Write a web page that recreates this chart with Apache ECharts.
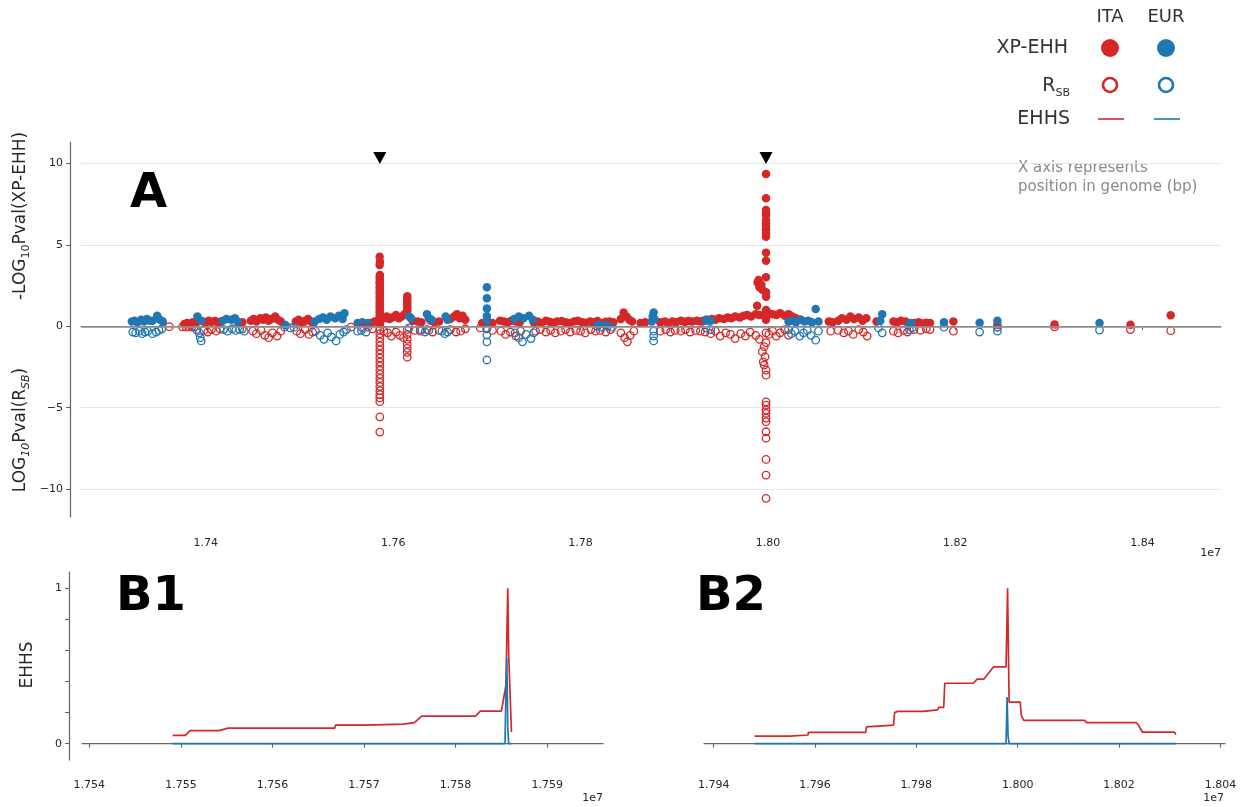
<!DOCTYPE html>
<html>
<head>
<meta charset="utf-8">
<script src="https://cdn.jsdelivr.net/npm/echarts@6/dist/echarts.min.js"></script>
<style>
  html, body { margin: 0; padding: 0; background: #fff; }
  #chart { width: 1242px; height: 807px; }
</style>
</head>
<body>
<div id="chart"></div>
<script>
// Genome positions are in Mb; the axes show them in units of 1e7 bp.

// Panel A: -log10 p of XP-EHH (above zero) and log10 p of Rsb (below zero)
const itaXpehh = [
  [17.377,0.15],[17.380,0.2],[17.383,0.12],[17.386,0.25],[17.389,0.18],
  [17.397,0.3],[17.400,0.25],[17.403,0.35],[17.406,0.28],[17.410,0.32],[17.413,0.22],[17.416,0.3],
  [17.435,0.2],[17.439,0.25],
  [17.448,0.35],[17.451,0.45],[17.454,0.3],[17.458,0.5],[17.461,0.4],[17.464,0.55],[17.467,0.35],[17.470,0.45],[17.474,0.6],[17.477,0.4],[17.480,0.3],
  [17.496,0.3],[17.499,0.4],[17.502,0.25],[17.506,0.35],[17.509,0.45],[17.512,0.3],[17.515,0.2],
  [17.571,0.15],[17.576,0.2],[17.580,0.3],
  [17.5855,4.28],[17.5858,3.97],[17.5855,3.77],[17.5858,3.15],[17.5855,3.0],[17.5858,2.85],[17.5855,2.7],[17.5858,2.55],
  [17.5855,2.4],[17.5858,2.25],[17.5855,2.1],[17.5858,1.95],[17.5855,1.8],[17.5858,1.65],[17.5855,1.5],[17.5858,1.35],
  [17.5855,1.2],[17.5858,1.05],[17.5855,0.9],[17.5858,0.75],[17.5855,0.6],[17.5858,0.45],[17.5855,0.3],[17.5858,0.15],
  [17.590,0.5],[17.593,0.6],[17.596,0.45],[17.599,0.55],[17.603,0.7],[17.606,0.5],[17.609,0.6],[17.612,0.75],
  [17.615,1.85],[17.615,1.7],[17.615,1.55],[17.615,1.4],[17.615,1.25],[17.615,1.1],[17.615,0.95],
  [17.621,0.35],[17.626,0.3],[17.630,0.25],[17.640,0.35],[17.644,0.25],[17.649,0.3],
  [17.661,0.45],[17.665,0.6],[17.668,0.75],[17.671,0.5],[17.674,0.65],[17.677,0.4],
  [17.695,0.2],[17.701,0.25],[17.706,0.2],
  [17.714,0.35],[17.718,0.3],[17.722,0.25],[17.726,0.35],[17.731,0.3],[17.735,0.25],
  [17.750,0.25],[17.754,0.3],[17.758,0.2],[17.763,0.35],[17.767,0.28],[17.771,0.22],[17.775,0.3],[17.780,0.33],
  [17.784,0.25],[17.788,0.2],[17.793,0.3],[17.797,0.35],[17.801,0.27],[17.805,0.22],[17.810,0.3],[17.814,0.25],
  [17.818,0.32],[17.822,0.2],[17.827,0.28],[17.831,0.3],[17.835,0.25],
  [17.843,0.45],[17.846,0.85],[17.849,0.6],[17.852,0.4],[17.855,0.3],
  [17.864,0.2],[17.869,0.25],
  [17.885,0.25],[17.890,0.3],[17.894,0.2],[17.898,0.3],[17.902,0.25],[17.907,0.35],[17.911,0.28],[17.915,0.32],
  [17.919,0.3],[17.924,0.35],[17.928,0.3],
  [17.931,0.35],[17.935,0.4],[17.940,0.45],[17.944,0.4],[17.948,0.5],[17.953,0.45],[17.957,0.55],[17.961,0.5],
  [17.965,0.6],[17.970,0.55],[17.974,0.65],[17.978,0.7],[17.982,0.6],[17.987,0.75],[17.991,0.7],
  [17.998,9.36],[17.998,7.87],[17.998,7.15],[17.998,6.98],[17.998,6.84],[17.998,6.53],[17.998,6.33],[17.998,6.16],
  [17.998,5.96],[17.998,5.71],[17.998,5.5],[17.998,4.52],[17.998,4.03],[17.998,3.01],[17.990,2.85],[17.989,2.7],
  [17.993,2.55],[17.991,2.4],[17.994,2.25],[17.998,2.1],[17.998,1.82],[17.9885,1.27],[17.998,1.0],[17.998,0.8],
  [17.998,0.6],[17.998,0.4],
  [18.001,0.8],[18.005,0.75],[18.009,0.7],[18.013,0.8],[18.018,0.65],[18.022,0.75],[18.026,0.6],[18.030,0.5],[18.035,0.4],
  [18.065,0.3],[18.069,0.25],
  [18.075,0.35],[18.079,0.5],[18.084,0.4],[18.088,0.6],[18.092,0.45],[18.097,0.55],[18.101,0.35],[18.105,0.5],
  [18.116,0.3],
  [18.134,0.3],[18.138,0.25],[18.142,0.35],[18.147,0.3],
  [18.156,0.2],[18.161,0.25],[18.165,0.18],[18.169,0.22],[18.173,0.2],
  [18.198,0.3],[18.245,0.1],[18.306,0.12],[18.387,0.1],[18.430,0.68]
];

const eurXpehh = [
  [17.321,0.3],[17.324,0.35],[17.327,0.25],[17.331,0.4],[17.334,0.3],[17.337,0.45],[17.340,0.35],
  [17.343,0.35],[17.348,0.65],[17.351,0.4],[17.354,0.3],
  [17.391,0.6],[17.395,0.35],
  [17.418,0.35],[17.422,0.45],[17.427,0.4],[17.431,0.5],[17.434,0.3],
  [17.485,0.08],
  [17.516,0.3],[17.521,0.45],[17.525,0.55],[17.529,0.4],[17.533,0.6],[17.538,0.5],[17.542,0.65],[17.546,0.45],[17.548,0.8],
  [17.562,0.2],[17.567,0.25],[17.573,0.2],
  [17.617,0.6],[17.619,0.5],
  [17.636,0.75],[17.638,0.5],[17.641,0.4],
  [17.656,0.6],[17.658,0.4],
  [17.700,2.4],[17.700,1.72],[17.700,1.1],[17.700,0.63],[17.700,0.39],
  [17.729,0.45],[17.734,0.6],[17.739,0.5],[17.745,0.65],[17.749,0.4],
  [17.819,0.1],[17.827,0.08],
  [17.878,0.85],[17.877,0.6],[17.879,0.45],[17.876,0.3],
  [17.934,0.4],[17.939,0.35],
  [18.022,0.3],[18.026,0.35],[18.030,0.25],[18.035,0.4],[18.039,0.3],[18.043,0.35],[18.047,0.25],[18.051,1.06],[18.054,0.3],
  [18.122,0.74],[18.120,0.35],
  [18.151,0.15],[18.153,0.2],
  [18.188,0.25],[18.226,0.22],[18.245,0.35],[18.354,0.2]
];

const itaRsb = [
  [17.361,-0.02],
  [17.375,-0.03],[17.379,-0.05],[17.382,-0.02],[17.385,-0.04],[17.388,-0.03],
  [17.398,-0.25],[17.402,-0.35],[17.406,-0.2],[17.411,-0.3],[17.415,-0.15],
  [17.439,-0.15],
  [17.450,-0.3],[17.454,-0.45],[17.459,-0.25],[17.463,-0.55],[17.467,-0.7],[17.471,-0.4],[17.476,-0.6],[17.480,-0.3],
  [17.497,-0.3],[17.501,-0.45],[17.506,-0.2],[17.510,-0.5],[17.514,-0.35],
  [17.555,-0.05],
  [17.567,-0.1],[17.573,-0.05],[17.578,-0.15],
  [17.5857,-0.2],[17.5857,-0.45],[17.5857,-0.7],[17.5857,-0.95],[17.5857,-1.2],[17.5857,-1.45],[17.5857,-1.7],
  [17.5857,-1.95],[17.5857,-2.2],[17.5857,-2.45],[17.5857,-2.7],[17.5857,-2.95],[17.5857,-3.2],[17.5857,-3.45],
  [17.5857,-3.7],[17.5857,-3.95],[17.5857,-4.2],[17.5857,-4.4],[17.5857,-4.63],[17.5857,-5.56],[17.5857,-6.5],
  [17.590,-0.3],[17.594,-0.4],[17.598,-0.6],[17.603,-0.35],[17.607,-0.55],[17.611,-0.7],
  [17.615,-0.2],[17.615,-0.5],[17.615,-0.8],[17.615,-1.1],[17.615,-1.35],[17.615,-1.6],[17.615,-1.9],
  [17.623,-0.25],[17.629,-0.3],[17.636,-0.2],[17.642,-0.35],[17.649,-0.25],
  [17.661,-0.2],[17.667,-0.35],[17.672,-0.3],[17.677,-0.15],
  [17.693,-0.1],[17.700,-0.15],[17.706,-0.25],
  [17.715,-0.3],[17.720,-0.5],[17.725,-0.35],[17.731,-0.6],[17.736,-0.3],
  [17.752,-0.3],[17.757,-0.2],[17.763,-0.35],[17.768,-0.25],[17.773,-0.4],[17.779,-0.3],[17.784,-0.2],[17.789,-0.35],
  [17.795,-0.25],[17.800,-0.3],[17.805,-0.4],[17.811,-0.2],[17.816,-0.3],[17.821,-0.25],[17.827,-0.35],[17.832,-0.2],
  [17.843,-0.4],[17.847,-0.7],[17.850,-0.95],[17.853,-0.55],[17.857,-0.3],
  [17.885,-0.3],[17.891,-0.2],[17.896,-0.35],[17.901,-0.25],[17.907,-0.3],[17.912,-0.2],[17.917,-0.35],[17.923,-0.25],[17.928,-0.3],
  [17.933,-0.35],[17.939,-0.45],[17.944,-0.3],[17.949,-0.6],[17.955,-0.4],[17.960,-0.5],[17.965,-0.75],[17.971,-0.45],
  [17.976,-0.6],[17.981,-0.35],[17.987,-0.55],[17.991,-0.8],
  [17.998,-0.4],[17.998,-1.0],[17.996,-1.25],[17.994,-1.56],[17.997,-1.87],[17.995,-2.18],[17.996,-2.38],[17.998,-2.69],
  [17.998,-3.0],[17.998,-4.64],[17.998,-4.84],[17.998,-5.15],[17.998,-5.35],[17.998,-5.64],[17.998,-5.86],[17.998,-6.48],
  [17.998,-6.88],[17.998,-8.18],[17.998,-9.14],[17.998,-10.57],
  [18.001,-0.5],[18.005,-0.3],[18.009,-0.6],[18.013,-0.4],[18.018,-0.2],[18.022,-0.55],
  [18.067,-0.3],
  [18.075,-0.25],[18.081,-0.4],[18.086,-0.3],[18.091,-0.5],[18.097,-0.2],[18.102,-0.35],[18.106,-0.6],
  [18.134,-0.3],[18.139,-0.4],[18.145,-0.25],[18.149,-0.35],
  [18.156,-0.2],[18.163,-0.25],[18.169,-0.15],[18.173,-0.2],
  [18.198,-0.3],[18.245,-0.05],[18.306,-0.03],[18.387,-0.2],[18.430,-0.27]
];

const eurRsb = [
  [17.322,-0.35],[17.325,-0.4],[17.329,-0.3],[17.332,-0.45],[17.335,-0.35],[17.338,-0.3],
  [17.343,-0.45],[17.347,-0.35],[17.350,-0.25],[17.353,-0.15],
  [17.390,-0.2],[17.393,-0.4],[17.394,-0.7],[17.395,-0.9],
  [17.419,-0.2],[17.423,-0.3],[17.428,-0.15],[17.432,-0.25],[17.436,-0.2],[17.441,-0.3],
  [17.484,-0.05],[17.490,-0.1],[17.494,-0.05],
  [17.517,-0.3],[17.522,-0.55],[17.526,-0.8],[17.530,-0.4],[17.534,-0.65],[17.539,-0.9],[17.543,-0.5],[17.547,-0.35],[17.550,-0.2],
  [17.562,-0.3],[17.566,-0.25],[17.571,-0.35],
  [17.617,-0.1],
  [17.629,-0.2],[17.634,-0.35],[17.638,-0.25],
  [17.652,-0.3],[17.655,-0.45],[17.658,-0.35],
  [17.700,-0.14],[17.700,-0.54],[17.700,-0.95],[17.700,-2.07],
  [17.730,-0.4],[17.734,-0.7],[17.738,-0.95],[17.742,-0.5],[17.747,-0.75],[17.750,-0.4],
  [17.818,0],[17.823,-0.05],[17.829,0],[17.834,-0.05],
  [17.878,-0.3],[17.878,-0.6],[17.878,-0.9],
  [17.934,-0.1],[17.939,-0.2],
  [18.022,-0.2],[18.025,-0.45],[18.029,-0.3],[18.034,-0.6],[18.038,-0.4],[18.042,-0.25],[18.046,-0.55],[18.051,-0.85],[18.054,-0.3],
  [18.122,-0.4],[18.118,-0.1],
  [18.151,-0.2],[18.154,-0.1],
  [18.188,-0.05],[18.226,-0.35],[18.245,-0.05],[18.245,-0.3],[18.354,-0.23]
];

// Candidate sweep centres marked with a triangle above panel A
const sweepPeaks = [17.5857, 17.998];

// Panels B1 and B2: EHHS along the two candidate regions
const ehhsItaB1 = [
  [17.5491,0.054],[17.5505,0.054],[17.5510,0.084],[17.5541,0.084],[17.5552,0.10],[17.5668,0.10],[17.5669,0.12],
  [17.5702,0.12],[17.5703,0.126],[17.5743,0.126],[17.5744,0.135],[17.5755,0.135],[17.5763,0.178],[17.5822,0.178],
  [17.5827,0.21],[17.5850,0.21],[17.5855,0.376],[17.5857,1.0],[17.5858,0.58],[17.5861,0.075]
];
const ehhsEurB1 = [
  [17.5491,0],[17.5854,0],[17.5855,0.35],[17.5856,0.55],[17.5857,0.1],[17.5858,0],[17.5861,0]
];
const ehhsItaB2 = [
  [17.9481,0.049],[17.9550,0.049],[17.9551,0.056],[17.9586,0.056],[17.9587,0.073],[17.9700,0.073],[17.9702,0.11],
  [17.9710,0.11],[17.9712,0.12],[17.9755,0.12],[17.9757,0.20],[17.9763,0.208],[17.9814,0.208],[17.9816,0.217],
  [17.9842,0.217],[17.9844,0.234],[17.9854,0.234],[17.9856,0.389],[17.9912,0.389],[17.9920,0.415],[17.9933,0.415],
  [17.9952,0.494],[17.9977,0.494],[17.9980,1.0],[17.9983,0.268],[18.0005,0.268],[18.0007,0.183],[18.0012,0.15],
  [18.0132,0.15],[18.0136,0.135],[18.0234,0.135],[18.0238,0.12],[18.0246,0.075],[18.0309,0.075],[18.0312,0.058]
];
const ehhsEurB2 = [
  [17.9481,0],[17.9977,0],[17.9979,0.3],[17.9981,0.05],[17.9983,0],[18.0312,0]
];

// Tick positions and labels
const aXTicks = [17.4, 17.6, 17.8, 18.0, 18.2, 18.4];
const aYTicks = [-10, -5, 0, 5, 10];
const b1XTicks = [17.54, 17.55, 17.56, 17.57, 17.58, 17.59];
const b2XTicks = [17.94, 17.96, 17.98, 18.00, 18.02, 18.04];
const bYTicks = [0, 0.2, 0.4, 0.6, 0.8, 1];
const bYLabels = [0, 1];

const RED = '#d62728';
const BLUE = '#1f77b4';
const FONT = 'DejaVu Sans';
const AXIS = '#666';
const TEXT = '#262626';

const chart = echarts.init(document.getElementById('chart'), null, { renderer: 'canvas' });

const axisLine = { show: true, lineStyle: { color: AXIS, width: 1.25 } };
const tickStyle = (vals) => ({ show: true, length: 4, customValues: vals, lineStyle: { color: AXIS, width: 1.1 } });
const labelStyle = (vals, fmt, margin) => ({
  show: true, customValues: vals, formatter: fmt, fontSize: 11, fontFamily: FONT, color: TEXT, margin
});
const mb1e7 = (d) => (v) => (v / 10).toFixed(d);
const signed = (v) => (v < 0 ? '\u2212' + (-v) : String(v));

const filled = (name, data, color) => ({
  name, type: 'scatter', xAxisIndex: 0, yAxisIndex: 0, data,
  symbol: 'circle', symbolSize: 8.5, itemStyle: { color, opacity: 1 }, z: 3, silent: true
});
const hollow = (name, data, color) => ({
  name, type: 'scatter', xAxisIndex: 0, yAxisIndex: 0, data,
  symbol: 'circle', symbolSize: 7.5,
  itemStyle: { color: 'rgba(255,255,255,0)', borderColor: color, borderWidth: 1.3, opacity: 1 }, z: 3, silent: true
});
const ehhsLine = (name, data, color, idx) => ({
  name, type: 'line', xAxisIndex: idx, yAxisIndex: idx, data,
  showSymbol: false, symbol: 'none', lineStyle: { color, width: 1.7 }, z: 3, silent: true
});

const text = (x, y, str, o = {}) => ({
  type: 'text', x, y, rotation: o.rotation || 0, silent: true,
  style: Object.assign({
    text: str, fontSize: o.size || 11, fontFamily: FONT, fontWeight: o.weight || 'normal',
    fill: o.color || TEXT, align: o.align || 'left', verticalAlign: 'middle'
  }, o.rich ? { rich: o.rich } : {})
});

const subRich = (main, sub, color, lh, italicSub) => ({
  n: { fontSize: main, lineHeight: lh, fontFamily: FONT, fill: color },
  s: { fontSize: sub, lineHeight: sub, verticalAlign: 'bottom', fontFamily: FONT, fill: color, fontStyle: italicSub ? 'italic' : 'normal' }
});

const option = {
  animation: false,
  backgroundColor: '#fff',
  grid: [
    { left: 81, right: 21, top: 142, bottom: 290 },
    { left: 82, right: 639, top: 572, bottom: 47 },
    { left: 704, right: 17, top: 572, bottom: 47 }
  ],
  xAxis: [
    { gridIndex: 0, type: 'value', min: 17.2667, max: 18.4837, offset: 10,
      axisLine, axisTick: tickStyle(aXTicks), axisLabel: labelStyle(aXTicks, mb1e7(2), 11), splitLine: { show: false } },
    { gridIndex: 1, type: 'value', min: 17.5392, max: 17.5961, offset: 10,
      axisLine, axisTick: tickStyle(b1XTicks), axisLabel: labelStyle(b1XTicks, mb1e7(3), 10), splitLine: { show: false } },
    { gridIndex: 2, type: 'value', min: 17.9381, max: 18.0409, offset: 10,
      axisLine, axisTick: tickStyle(b2XTicks), axisLabel: labelStyle(b2XTicks, mb1e7(3), 10), splitLine: { show: false } }
  ],
  yAxis: [
    { gridIndex: 0, type: 'value', min: -11.72, max: 11.33, offset: 11,
      axisLine, axisTick: tickStyle(aYTicks), axisLabel: labelStyle(aYTicks, signed, 7),
      splitLine: { show: true, lineStyle: { color: '#e6e6e6', width: 1 } } },
    { gridIndex: 1, type: 'value', min: -0.105, max: 1.105, offset: 13,
      axisLine, axisTick: tickStyle(bYTicks), axisLabel: labelStyle(bYLabels, (v) => String(v), 7),
      splitLine: { show: false } },
    { gridIndex: 2, type: 'value', min: -0.105, max: 1.105, show: false, splitLine: { show: false } }
  ],
  series: [
    { name: 'zero', type: 'line', xAxisIndex: 0, yAxisIndex: 0, data: [], z: 2, silent: true,
      markLine: { silent: true, symbol: 'none', label: { show: false },
        lineStyle: { color: '#9a9a9a', width: 1.6, type: 'solid' }, data: [{ yAxis: 0 }] } },
    filled('ITA XP-EHH', itaXpehh, RED),
    filled('EUR XP-EHH', eurXpehh, BLUE),
    hollow('ITA Rsb', itaRsb, RED),
    hollow('EUR Rsb', eurRsb, BLUE),
    { name: 'peaks', type: 'scatter', xAxisIndex: 0, yAxisIndex: 0,
      data: sweepPeaks.map((p) => [p, 10.35]), symbol: 'triangle', symbolRotate: 180,
      symbolSize: [13, 12], itemStyle: { color: '#000', opacity: 1 }, z: 4, silent: true },
    ehhsLine('ITA EHHS B1', ehhsItaB1, RED, 1),
    ehhsLine('EUR EHHS B1', ehhsEurB1, BLUE, 1),
    ehhsLine('ITA EHHS B2', ehhsItaB2, RED, 2),
    ehhsLine('EUR EHHS B2', ehhsEurB2, BLUE, 2)
  ],
  graphic: [
    // panel letters
    text(130, 195, 'A', { size: 48, weight: 'bold', color: '#000' }),
    text(116, 598, 'B1', { size: 48, weight: 'bold', color: '#000' }),
    text(696, 598, 'B2', { size: 48, weight: 'bold', color: '#000' }),
    // axis titles
    text(21, 216, '{n|-LOG}{s|10}{n|Pval(XP-EHH)}', { rotation: Math.PI / 2, align: 'center', rich: subRich(17, 11, TEXT, 22, false) }),
    text(21, 430, '{n|LOG}{s|10}{n|Pval(R}{s|SB}{n|)}', { rotation: Math.PI / 2, align: 'center', rich: subRich(17, 11, TEXT, 22, true) }),
    text(28, 665, 'EHHS', { size: 17, rotation: Math.PI / 2, align: 'center' }),
    // offset labels
    text(1221, 553, '1e7', { align: 'right' }),
    text(603, 798, '1e7', { align: 'right' }),
    text(1224, 798, '1e7', { align: 'right' }),
    // legend table
    text(1110, 17, 'ITA', { size: 18, color: '#333', align: 'center' }),
    text(1166, 17, 'EUR', { size: 18, color: '#333', align: 'center' }),
    text(1068, 48, 'XP-EHH', { size: 19, color: '#333', align: 'right' }),
    text(1070, 86, '{n|R}{s|SB}', { align: 'right', rich: subRich(19, 11, '#333', 26, false) }),
    text(1070, 119, 'EHHS', { size: 19, color: '#333', align: 'right' }),
    { type: 'circle', silent: true, shape: { cx: 1110, cy: 48, r: 9 }, style: { fill: RED } },
    { type: 'circle', silent: true, shape: { cx: 1166, cy: 48, r: 9 }, style: { fill: BLUE } },
    { type: 'circle', silent: true, shape: { cx: 1110, cy: 85, r: 7 }, style: { fill: 'none', stroke: RED, lineWidth: 2.6 } },
    { type: 'circle', silent: true, shape: { cx: 1166, cy: 85, r: 7 }, style: { fill: 'none', stroke: BLUE, lineWidth: 2.6 } },
    { type: 'line', silent: true, shape: { x1: 1098, y1: 119, x2: 1124, y2: 119 }, style: { stroke: RED, lineWidth: 1.6 } },
    { type: 'line', silent: true, shape: { x1: 1154, y1: 119, x2: 1180, y2: 119 }, style: { stroke: BLUE, lineWidth: 1.6 } },
    // note under the legend
    text(1018, 168, 'X axis represents', { size: 15, color: '#8a8a8a' }),
    text(1018, 187, 'position in genome (bp)', { size: 15, color: '#8a8a8a' })
  ]
};

chart.setOption(option);
</script>
</body>
</html>
